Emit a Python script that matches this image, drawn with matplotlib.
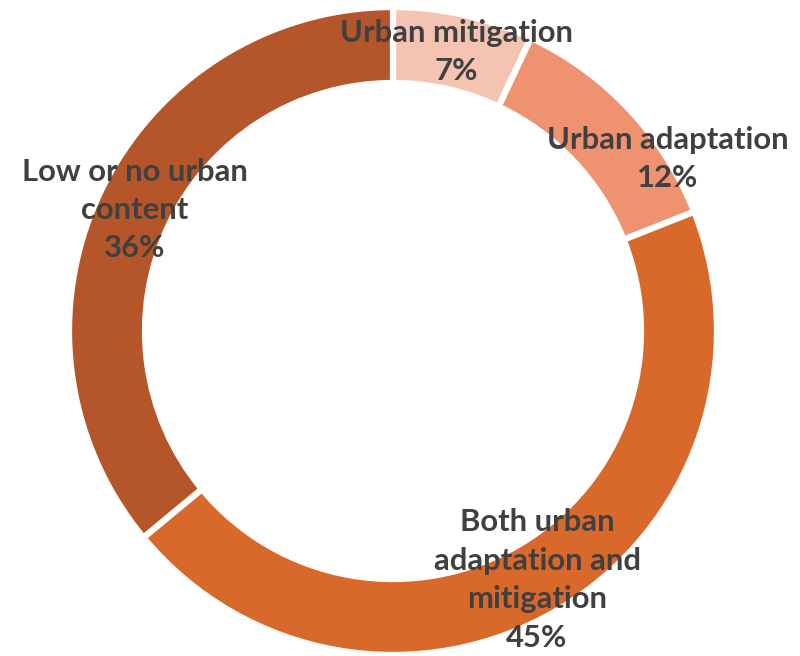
import matplotlib
matplotlib.use("Agg")
import matplotlib.pyplot as plt

categories = ["Urban mitigation", "Urban adaptation",
              "Both urban adaptation and mitigation", "Low or no urban content"]
values = [7, 12, 45, 36]
labels = ["Urban mitigation\n7%", "Urban adaptation\n12%",
          "Both urban\nadaptation and\nmitigation\n45%", "Low or no urban\ncontent\n36%"]
colors = ["#F5C3B2", "#EE9270", "#D9682B", "#B4552A"]

W, H = 800, 656
fig = plt.figure(figsize=(W / 100, H / 100), dpi=100)
ax = fig.add_axes([0, 0, 1, 1])
ax.set_xlim(0, W)
ax.set_ylim(0, H)
ax.axis("off")

cx, cy, R = 393, H - 331, 324
ax.pie(values, colors=colors, startangle=90, counterclock=False,
       center=(cx, cy), radius=R,
       wedgeprops=dict(width=76, edgecolor="white", linewidth=4.5))
ax.set_xlim(0, W)
ax.set_ylim(0, H)
ax.set_aspect("equal")

# label positions (pixel coords, top-origin), centred
label_pos = [(456, 52), (668, 159), (537, 580), (135, 210)]
for lab, (x, y) in zip(labels, label_pos):
    ax.text(x, H - y, lab, ha="center", va="center", fontsize=22.3,
            fontweight="bold", color="#404040", family=["Lato", "DejaVu Sans"],
            linespacing=1.45)

fig.savefig("out.png", dpi=100)
